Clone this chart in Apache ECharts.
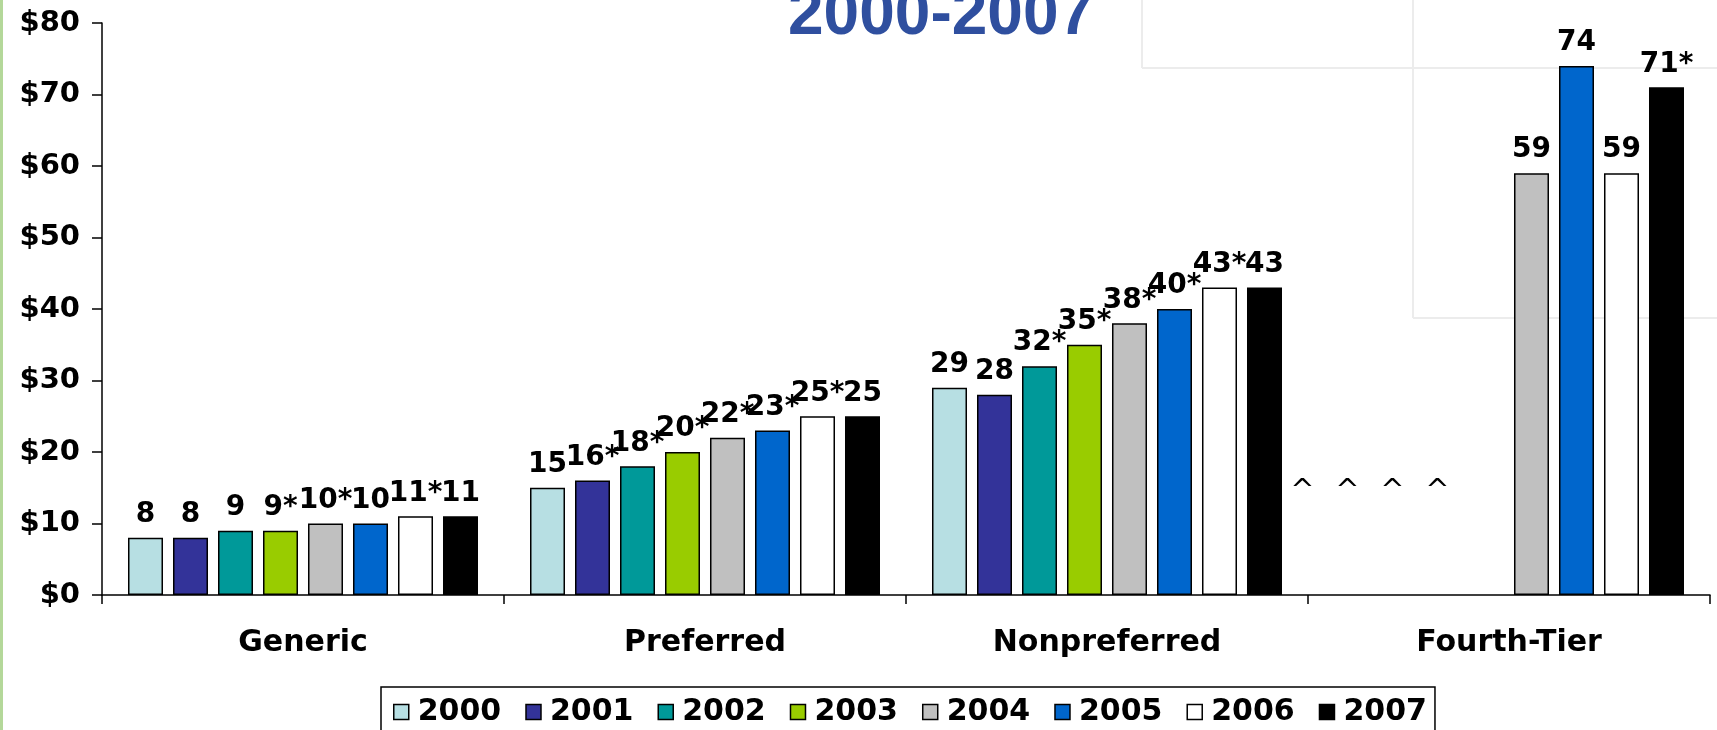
<!DOCTYPE html>
<html>
<head>
<meta charset="utf-8">
<script src="https://cdn.jsdelivr.net/npm/echarts@6/dist/echarts.min.js"></script>
<style>
  html, body { margin: 0; padding: 0; background: #ffffff; }
  #chart { width: 1717px; height: 730px; }
</style>
</head>
<body>
<div id="chart"></div>
<script>
// ---- data ----
const categories = ['Generic', 'Preferred', 'Nonpreferred', 'Fourth-Tier'];
const years = ['2000', '2001', '2002', '2003', '2004', '2005', '2006', '2007'];
const yTicks = [0, 10, 20, 30, 40, 50, 60, 70, 80];

const values2000 = [8, 15, 29, null];
const values2001 = [8, 16, 28, null];
const values2002 = [9, 18, 32, null];
const values2003 = [9, 20, 35, null];
const values2004 = [10, 22, 38, 59];
const values2005 = [10, 23, 40, 74];
const values2006 = [11, 25, 43, 59];
const values2007 = [11, 25, 43, 71];

const labels2000 = ['8', '15', '29', '^'];
const labels2001 = ['8', '16*', '28', '^'];
const labels2002 = ['9', '18*', '32*', '^'];
const labels2003 = ['9*', '20*', '35*', '^'];
const labels2004 = ['10*', '22*', '38*', '59'];
const labels2005 = ['10', '23*', '40*', '74'];
const labels2006 = ['11*', '25*', '43*', '59'];
const labels2007 = ['11', '25', '43', '71*'];

const colors = ['#B7DFE3', '#333399', '#009999', '#99CC00', '#C0C0C0', '#0066CC', '#FFFFFF', '#000000'];

const allValues = [values2000, values2001, values2002, values2003, values2004, values2005, values2006, values2007];
const allLabels = [labels2000, labels2001, labels2002, labels2003, labels2004, labels2005, labels2006, labels2007];

const FONT = '"DejaVu Sans", Verdana, sans-serif';

const series = years.map((yr, si) => ({
  name: yr,
  type: 'bar',
  barWidth: 35,
  barGap: '28.57%',
  itemStyle: { color: colors[si], borderColor: '#000', borderWidth: 1.5 },
  label: {
    show: true,
    position: 'top',
    distance: 9,
    color: '#000',
    fontFamily: FONT,
    fontWeight: 'bold',
    fontSize: 28
  },
  emphasis: { disabled: true },
  data: allValues[si].map((v, ci) => {
    const txt = allLabels[si][ci];
    if (v === null) {
      return {
        value: 0,
        itemStyle: { color: 'rgba(0,0,0,0)', borderWidth: 0 },
        label: {
          show: true, position: 'inside', formatter: txt,
          offset: [-49, -104], fontWeight: 'normal', fontSize: 29, color: '#000'
        }
      };
    }
    return { value: v, label: { formatter: txt } };
  })
}));

const chart = echarts.init(document.getElementById('chart'), null, { renderer: 'canvas' });
chart.setOption({
  animation: false,
  backgroundColor: '#ffffff',
  title: {
    text: '2000-2007',
    left: 788,
    top: -16,
    padding: 0,
    textStyle: {
      fontFamily: '"Liberation Sans", Arial, sans-serif',
      fontWeight: 'bold',
      fontSize: 64,
      color: '#2F4F9F'
    }
  },
  graphic: [
    { type: 'rect', left: 0, top: 0, shape: { width: 3, height: 730 }, style: { fill: '#B4D89A' }, silent: true },
    { type: 'line', shape: { x1: 1142, y1: 0, x2: 1142, y2: 68 }, style: { stroke: '#ececec', lineWidth: 2 }, silent: true, z: -1 },
    { type: 'line', shape: { x1: 1142, y1: 68, x2: 1717, y2: 68 }, style: { stroke: '#ececec', lineWidth: 2 }, silent: true, z: -1 },
    { type: 'line', shape: { x1: 1413, y1: 0, x2: 1413, y2: 318 }, style: { stroke: '#ececec', lineWidth: 2 }, silent: true, z: -1 },
    { type: 'line', shape: { x1: 1413, y1: 318, x2: 1717, y2: 318 }, style: { stroke: '#ececec', lineWidth: 2 }, silent: true, z: -1 }
  ],
  legend: {
    data: years,
    left: 381,
    top: 687,
    orient: 'horizontal',
    icon: 'rect',
    itemWidth: 15,
    itemHeight: 15,
    itemGap: 24,
    padding: [10, 8, 40, 12],
    borderColor: '#000',
    borderWidth: 1.5,
    backgroundColor: '#fff',
    selectedMode: false,
    itemStyle: { borderColor: '#000', borderWidth: 1.5 },
    textStyle: { fontFamily: FONT, fontWeight: 'bold', fontSize: 30, color: '#000', padding: [0, 0, 0, 4] }
  },
  grid: { left: 102, right: 7, top: 23, bottom: 135, containLabel: false, outerBoundsMode: 'none' },
  xAxis: {
    type: 'category',
    data: categories,
    axisLine: { lineStyle: { color: '#000', width: 1.5 } },
    axisTick: { show: true, length: 9, inside: false, lineStyle: { color: '#000', width: 1.5 } },
    axisLabel: { margin: 33, color: '#000', fontFamily: FONT, fontWeight: 'bold', fontSize: 30 },
    splitLine: { show: false }
  },
  yAxis: {
    type: 'value',
    min: yTicks[0],
    max: yTicks[yTicks.length - 1],
    interval: 10,
    axisLine: { show: true, lineStyle: { color: '#000', width: 1.5 } },
    axisTick: { show: true, length: 10, inside: false, lineStyle: { color: '#000', width: 1.5 } },
    axisLabel: {
      margin: 22, color: '#000', fontFamily: FONT, fontWeight: 'bold', fontSize: 29,
      formatter: v => '$' + v
    },
    splitLine: { show: false }
  },
  series: series
});
</script>
</body>
</html>
